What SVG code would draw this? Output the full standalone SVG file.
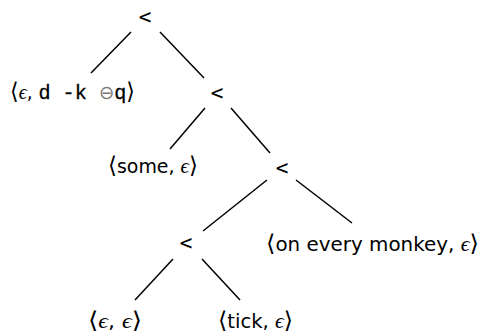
<svg xmlns="http://www.w3.org/2000/svg" width="481" height="336" viewBox="0 0 481 336">
<style>
.op{font-family:"DejaVu Sans Mono","Liberation Mono",monospace;font-size:21px;fill:#000;text-anchor:middle}
.lbl{font-family:"DejaVu Sans","Noto Sans",sans-serif;font-size:19px;fill:#000}
.br{font-family:"DejaVu Sans",sans-serif;font-size:23px}
.eps{font-family:"Liberation Serif","DejaVu Serif",serif;font-style:italic;font-size:21px}
.tt{font-family:"Liberation Mono","DejaVu Sans Mono",monospace;font-size:21px;stroke:#000;stroke-width:0.3}
.edge{stroke:#000;stroke-width:1.5;fill:none}
</style>
<rect width="481" height="336" fill="#fff"/>
<g id="connectors">
<line class="edge" x1="131" y1="32" x2="91" y2="73"/>
<line class="edge" x1="160" y1="32" x2="204" y2="78"/>
<line class="edge" x1="205" y1="108" x2="170" y2="149"/>
<line class="edge" x1="231" y1="108" x2="270" y2="153"/>
<line class="edge" x1="267" y1="180" x2="203" y2="231"/>
<line class="edge" x1="296" y1="180" x2="352" y2="223"/>
<line class="edge" x1="173" y1="259" x2="135" y2="300"/>
<line class="edge" x1="202" y1="259" x2="240" y2="300"/>
</g>
<g id="root"><text class="op" x="145" y="24">&lt;</text></g>
<g id="n2"><text class="op" x="217" y="100">&lt;</text></g>
<g id="n3"><text class="op" x="282" y="175">&lt;</text></g>
<g id="n4"><text class="op" x="186" y="250">&lt;</text></g>
<g id="leaf1"><text class="lbl" x="10" y="99" textLength="125" lengthAdjust="spacingAndGlyphs"><tspan class="br">⟨</tspan><tspan class="eps">ϵ</tspan>, <tspan class="tt">d -k </tspan><tspan fill="#777">⊖</tspan><tspan class="tt">q</tspan><tspan class="br">⟩</tspan></text></g>
<g id="leaf2"><text class="lbl" x="108" y="173" textLength="90" lengthAdjust="spacingAndGlyphs"><tspan class="br">⟨</tspan>some, <tspan class="eps">ϵ</tspan><tspan class="br">⟩</tspan></text></g>
<g id="leaf3"><text class="lbl" x="266" y="251" textLength="213" lengthAdjust="spacingAndGlyphs"><tspan class="br">⟨</tspan>on every monkey, <tspan class="eps">ϵ</tspan><tspan class="br">⟩</tspan></text></g>
<g id="leaf4"><text class="lbl" x="88" y="328" textLength="54" lengthAdjust="spacingAndGlyphs"><tspan class="br">⟨</tspan><tspan class="eps">ϵ</tspan>, <tspan class="eps">ϵ</tspan><tspan class="br">⟩</tspan></text></g>
<g id="leaf5"><text class="lbl" x="218" y="328" textLength="75" lengthAdjust="spacingAndGlyphs"><tspan class="br">⟨</tspan>tick, <tspan class="eps">ϵ</tspan><tspan class="br">⟩</tspan></text></g>
</svg>
